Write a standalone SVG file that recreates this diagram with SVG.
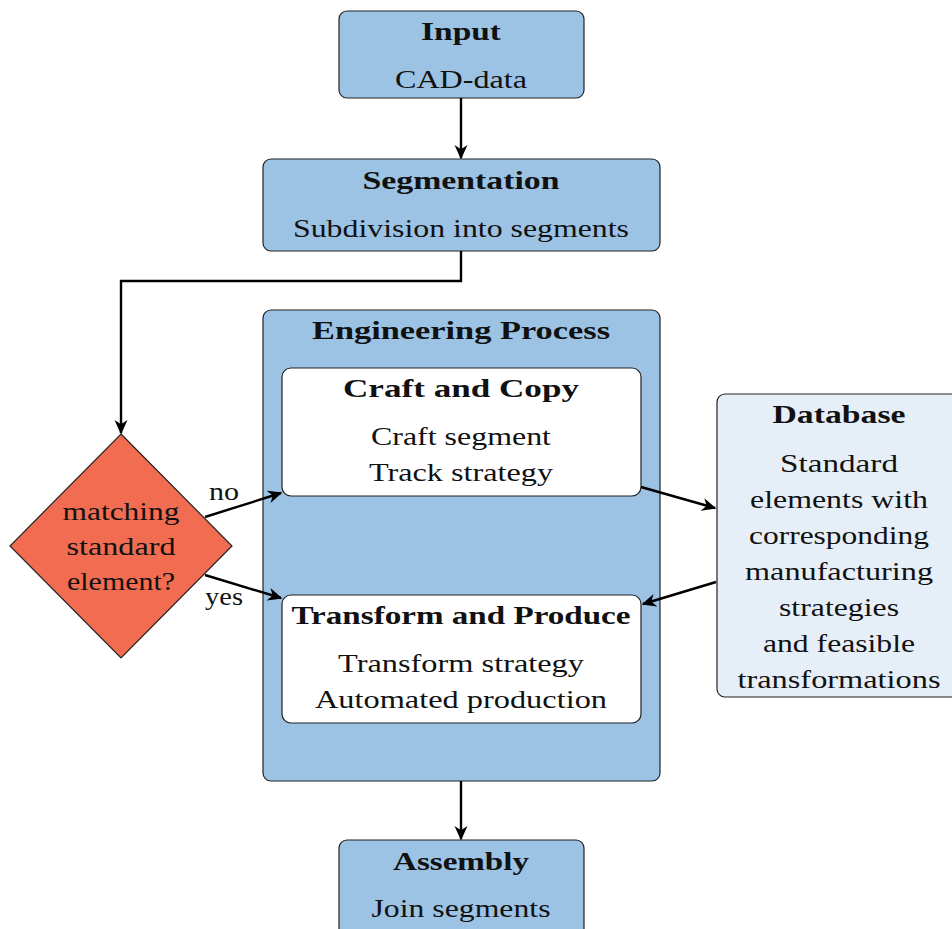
<svg xmlns="http://www.w3.org/2000/svg" width="952" height="929" viewBox="0 0 952 929">
<defs>
<marker id="ah" viewBox="0 0 10 10" refX="9" refY="5" markerWidth="6" markerHeight="6" markerUnits="strokeWidth" orient="auto">
<path d="M0,0.5 L10,5 L0,9.5 L3,5 Z" fill="#000"/>
</marker>
</defs>
<style>
.box{fill:#9cc3e4;stroke:#222;stroke-width:1.2}
.wbox{fill:#fff;stroke:#222;stroke-width:1.2}
.db{fill:#e6eff8;stroke:#222;stroke-width:1.2}
.dia{fill:#f16c50;stroke:#222;stroke-width:1.2}
text{font-family:"Liberation Serif","DejaVu Serif",serif;font-size:26px;fill:#111;text-anchor:middle}
.b{font-weight:bold}
.c{fill:none;stroke:#000;stroke-width:2.4;marker-end:url(#ah)}
</style>
<rect width="952" height="929" fill="#fff"/>
<g id="input">
<rect class="box" x="339" y="11" width="245" height="87" rx="8"/>
<text class="b" x="461" y="40" textLength="80" lengthAdjust="spacingAndGlyphs">Input</text>
<text x="461" y="88" textLength="132" lengthAdjust="spacingAndGlyphs">CAD-data</text>
</g>
<g id="segmentation">
<rect class="box" x="263" y="159" width="397" height="92" rx="8"/>
<text class="b" x="461" y="189" textLength="197" lengthAdjust="spacingAndGlyphs">Segmentation</text>
<text x="461" y="237" textLength="336" lengthAdjust="spacingAndGlyphs">Subdivision into segments</text>
</g>
<g id="engineering">
<rect class="box" x="263" y="310" width="397" height="471" rx="8"/>
<text class="b" x="461" y="339" textLength="298" lengthAdjust="spacingAndGlyphs">Engineering  Process</text>
</g>
<g id="craft">
<rect class="wbox" x="282" y="368" width="359" height="128" rx="9"/>
<text class="b" x="461" y="397" textLength="236" lengthAdjust="spacingAndGlyphs">Craft  and  Copy</text>
<text x="461" y="445" textLength="180" lengthAdjust="spacingAndGlyphs">Craft segment</text>
<text x="461" y="481" textLength="184" lengthAdjust="spacingAndGlyphs">Track strategy</text>
</g>
<g id="transform">
<rect class="wbox" x="282" y="595" width="359" height="128" rx="9"/>
<text class="b" x="461" y="624" textLength="339" lengthAdjust="spacingAndGlyphs">Transform and Produce</text>
<text x="461" y="672" textLength="246" lengthAdjust="spacingAndGlyphs">Transform strategy</text>
<text x="461" y="708" textLength="292" lengthAdjust="spacingAndGlyphs">Automated production</text>
</g>
<g id="database">
<rect class="db" x="717" y="394" width="250" height="303" rx="8"/>
<text class="b" x="839" y="423" textLength="133" lengthAdjust="spacingAndGlyphs">Database</text>
<text x="839" y="472" textLength="118" lengthAdjust="spacingAndGlyphs">Standard</text>
<text x="839" y="508" textLength="178" lengthAdjust="spacingAndGlyphs">elements with</text>
<text x="839" y="544" textLength="180" lengthAdjust="spacingAndGlyphs">corresponding</text>
<text x="839" y="580" textLength="188" lengthAdjust="spacingAndGlyphs">manufacturing</text>
<text x="839" y="616" textLength="120" lengthAdjust="spacingAndGlyphs">strategies</text>
<text x="839" y="652" textLength="152" lengthAdjust="spacingAndGlyphs">and feasible</text>
<text x="839" y="688" textLength="203" lengthAdjust="spacingAndGlyphs">transformations</text>
</g>
<g id="decision">
<path class="dia" d="M121,434 L232,546 L121,658 L10,546 Z"/>
<text x="121" y="520" textLength="117" lengthAdjust="spacingAndGlyphs">matching</text>
<text x="121" y="555" textLength="109" lengthAdjust="spacingAndGlyphs">standard</text>
<text x="121" y="590" textLength="108" lengthAdjust="spacingAndGlyphs">element?</text>
</g>
<g id="assembly">
<rect class="box" x="339" y="840" width="245" height="100" rx="8"/>
<text class="b" x="461" y="870" textLength="136" lengthAdjust="spacingAndGlyphs">Assembly</text>
<text x="461" y="917" textLength="179" lengthAdjust="spacingAndGlyphs">Join segments</text>
</g>
<g id="connectors">
<path class="c" d="M461,98 L461,158"/>
<path class="c" d="M461,251 L461,281 L121,281 L121,433"/>
<path class="c" d="M205,517 L281,493"/>
<path class="c" d="M205,575 L281,598"/>
<path class="c" d="M641,487 L715,508"/>
<path class="c" d="M716,582 L643,604"/>
<path class="c" d="M461,781 L461,839"/>
<text x="224" y="500" textLength="30" lengthAdjust="spacingAndGlyphs">no</text>
<text x="224" y="605" textLength="38" lengthAdjust="spacingAndGlyphs">yes</text>
</g>
</svg>
